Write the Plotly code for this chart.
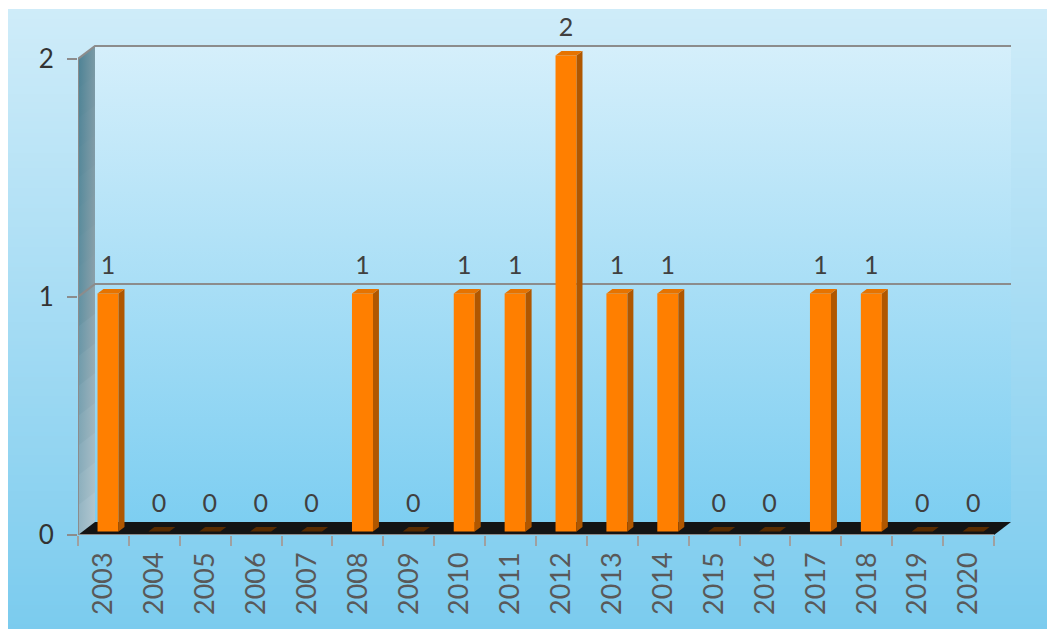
import base64
import struct
import zlib

import plotly.graph_objects as go

# ---------------- data ----------------
years = ["2003", "2004", "2005", "2006", "2007", "2008", "2009", "2010", "2011",
         "2012", "2013", "2014", "2015", "2016", "2017", "2018", "2019", "2020"]
counts = [1, 0, 0, 0, 0, 1, 0, 1, 1, 2, 1, 1, 0, 0, 1, 1, 0, 0]
y_ticks = [0, 1, 2]

# ---------------- geometry / style ----------------
W, H = 1055, 629
OFF = 8                        # page body margin compensation
X0PX, X1PX = 78 - OFF, 1014 - OFF   # plot area left/right (px)
Y0PX, Y1PX = 535 - OFF, 12 - OFF    # plot area bottom/top (px)
UX = (994 - 78) / len(years)   # px per category
UY = 238.0                     # px per unit of value
XR = [-0.5, -0.5 + (X1PX - X0PX) / UX]
YR = [0, (Y0PX - Y1PX) / UY]
DX = 17 / UX                   # depth offset (x)
DY = 13 / UY                   # depth offset (y)
BW = 0.413                     # bar width
F0, F1 = 0.27, 0.62            # bar depth placement (front, back)
XMIN, XMAX = -0.5, len(years) - 0.5
VMAX = max(y_ticks)

FONT = "Lato"
GRID = "#8c8c8c"


def png_gradient(top, bottom, h=160):
    rows = b""
    for i in range(h):
        t = i / (h - 1)
        c = bytes(round(top[k] + (bottom[k] - top[k]) * t) for k in range(3))
        rows += b"\x00" + c + c
    def chunk(tag, data):
        return (struct.pack(">I", len(data)) + tag + data +
                struct.pack(">I", zlib.crc32(tag + data) & 0xffffffff))
    png = (b"\x89PNG\r\n\x1a\n" +
           chunk(b"IHDR", struct.pack(">IIBBBBB", 2, h, 8, 2, 0, 0, 0)) +
           chunk(b"IDAT", zlib.compress(rows)) + chunk(b"IEND", b""))
    return "data:image/png;base64," + base64.b64encode(png).decode()


def rgb(c):
    return "rgb(%d,%d,%d)" % tuple(round(v) for v in c)


def lerp(a, b, t):
    return tuple(a[k] + (b[k] - a[k]) * t for k in range(3))


fig = go.Figure()

# ---------- walls & floor (subplot x/y, drawn first) ----------
fig.add_trace(go.Scatter(
    x=[XMIN + DX, XMAX + DX, XMAX + DX, XMIN + DX],
    y=[DY, DY, VMAX + DY, VMAX + DY],
    fill="toself", mode="none", hoverinfo="skip",
    fillgradient=dict(type="vertical", start=DY, stop=VMAX + DY,
                      colorscale=[[0, "rgb(125,206,241)"], [1, "rgb(213,239,251)"]]),
    xaxis="x", yaxis="y"))

top_l, top_r = (76, 129, 148), (122, 153, 165)
mid_l, mid_r = (92, 143, 160), (140, 161, 170)
bot_l, bot_r = (150, 182, 196), (178, 200, 210)
N = 16
for j in range(N):
    v0 = VMAX * j / N
    v1 = min(VMAX, VMAX * (j + 1) / N + 0.01)
    t = (j + 0.5) / N
    if t < 0.5:
        cl, cr = lerp(bot_l, mid_l, t / 0.5), lerp(bot_r, mid_r, t / 0.5)
    else:
        cl, cr = lerp(mid_l, top_l, (t - 0.5) / 0.5), lerp(mid_r, top_r, (t - 0.5) / 0.5)
    fig.add_trace(go.Scatter(
        x=[XMIN, XMIN, XMIN + DX, XMIN + DX],
        y=[v0, v1, v1 + DY, v0 + DY],
        fill="toself", mode="none", hoverinfo="skip",
        fillgradient=dict(type="horizontal", start=XMIN, stop=XMIN + DX,
                          colorscale=[[0, rgb(cl)], [1, rgb(cr)]]),
        xaxis="x", yaxis="y"))

gx, gy = [], []
for v in y_ticks[1:]:
    gx += [XMIN, XMIN + DX, XMAX + DX, None]
    gy += [v, v + DY, v + DY, None]
fig.add_trace(go.Scatter(x=gx, y=gy, mode="lines", hoverinfo="skip",
                         line=dict(color=GRID, width=2.2), xaxis="x", yaxis="y"))

fig.add_trace(go.Scatter(
    x=[XMIN, XMAX, XMAX + DX, XMIN + DX], y=[0, 0, DY, DY],
    fill="toself", mode="none", fillcolor="#141414", hoverinfo="skip",
    xaxis="x", yaxis="y"))

# ---------- bars (subplot x2/y2, on top) ----------
pos = list(range(len(years)))
base = F0 * DY
ddx, ddy = (F1 - F0) * DX, (F1 - F0) * DY

fig.add_trace(go.Bar(
    x=[p + F0 * DX for p in pos], y=counts, base=base, width=BW,
    marker=dict(color="#ff7f00", line=dict(width=0)),
    hovertext=years, hoverinfo="text+y", xaxis="x2", yaxis="y2"))

sx, sy, tx, ty, zx, zy = [], [], [], [], [], []
for p, v in zip(pos, counts):
    xl = p - BW / 2 + F0 * DX
    xr = xl + BW
    top_poly_x = [xl, xr, xr + ddx, xl + ddx, xl, None]
    top_poly_y = [base + v, base + v, base + v + ddy, base + v + ddy, base + v, None]
    if v > 0:
        sx += [xr, xr + ddx, xr + ddx, xr, xr, None]
        sy += [base, base + ddy, base + v + ddy, base + v, base, None]
        tx += top_poly_x
        ty += top_poly_y
    else:
        zx += top_poly_x
        zy += top_poly_y

fig.add_trace(go.Scatter(x=sx, y=sy, fill="toself", mode="none", fillcolor="#b05700",
                         hoverinfo="skip", xaxis="x2", yaxis="y2"))
fig.add_trace(go.Scatter(x=tx, y=ty, fill="toself", mode="none", fillcolor="#e67300",
                         hoverinfo="skip", xaxis="x2", yaxis="y2"))
fig.add_trace(go.Scatter(x=zx, y=zy, fill="toself", mode="none", fillcolor="#5a2c00",
                         hoverinfo="skip", xaxis="x2", yaxis="y2"))

fig.add_trace(go.Scatter(x=[XMIN, XMIN, None, XMIN, XMAX], y=[0, VMAX, None, 0, 0],
                         mode="lines", line=dict(color=GRID, width=2),
                         hoverinfo="skip", xaxis="x2", yaxis="y2"))

fig.add_trace(go.Scatter(
    x=[p + F0 * DX for p in pos], y=[base + v + 26 / UY for v in counts],
    text=[str(v) for v in counts], mode="text", textposition="middle center",
    textfont=dict(family=FONT, size=25, color="#404040"),
    hoverinfo="skip", cliponaxis=False, xaxis="x2", yaxis="y2"))

fig.update_layout(
    width=W, height=H,
    margin=dict(l=0, r=0, t=0, b=0),
    paper_bgcolor="white", plot_bgcolor="rgba(0,0,0,0)",
    showlegend=False, barmode="overlay",
    font=dict(family=FONT, size=26, color="#595959"),
    images=[dict(source=png_gradient((207, 236, 249), (122, 203, 238)),
                 xref="paper", yref="paper", x=0, y=1 - 1 / H,
                 sizex=1, sizey=1,
                 sizing="stretch", layer="below", xanchor="left", yanchor="top")],
    xaxis=dict(domain=[X0PX / W, X1PX / W], range=XR, visible=False, fixedrange=True),
    yaxis=dict(domain=[1 - Y0PX / H, 1 - Y1PX / H], range=YR, visible=False, fixedrange=True),
    xaxis2=dict(overlaying="x", anchor="y2", range=XR, fixedrange=True,
                tickmode="array", tickvals=pos, ticktext=years, ticks="",
                tickangle=-90, ticklabelstandoff=11, showgrid=False, zeroline=False,
                showline=False, automargin=False,
                tickfont=dict(family=FONT, size=27, color="#595959"),
                minor=dict(tickmode="array", tickvals=[p - 0.5 for p in pos] + [XMAX],
                           ticks="outside", ticklen=10, tickcolor="#a0a0a0", tickwidth=2,
                           showgrid=False)),
    yaxis2=dict(overlaying="y", anchor="x2", range=YR, fixedrange=True,
                tickmode="array", tickvals=y_ticks, ticktext=[str(v) for v in y_ticks],
                ticks="outside", ticklen=10, tickcolor=GRID, tickwidth=1.5,
                ticklabelstandoff=8, showgrid=False, zeroline=False, showline=False,
                automargin=False,
                tickfont=dict(family=FONT, size=26, color="#333333")),
)

fig.write_html("out.html")
